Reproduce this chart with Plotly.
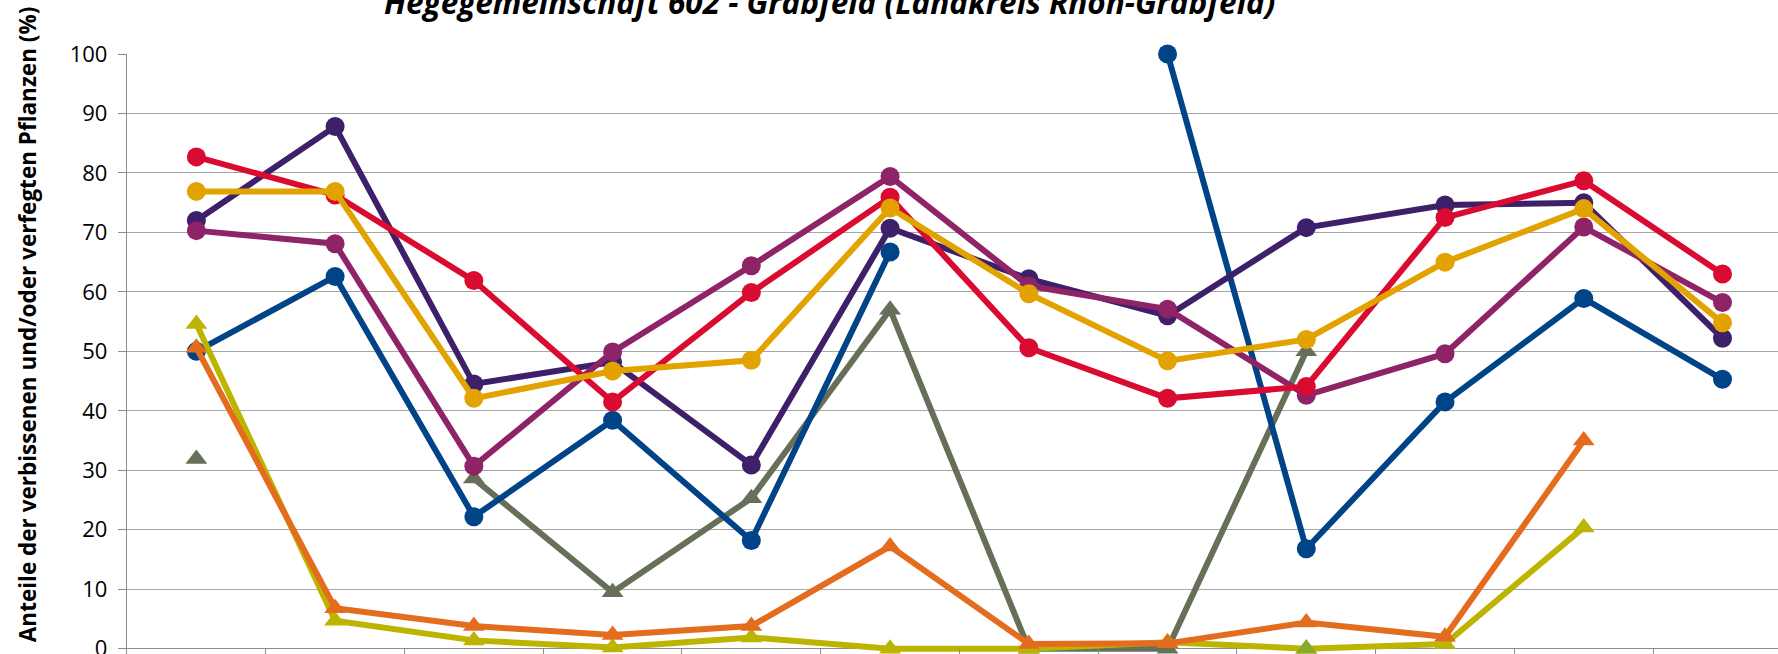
import plotly.graph_objects as go

# Categories (x axis labels are outside the visible crop)
categories = ["1991", "1994", "1997", "2000", "2003", "2006",
              "2009", "2012", "2015", "2018", "2021", "2024"]

# Series values (percent); None = no value (gap)
s_blue = [50.0, 62.6, 22.2, 38.4, 18.2, 66.7, None, 100.0, 16.8, 41.5, 58.9, 45.3]
s_darkpurple = [72.0, 87.8, 44.5, 48.2, 30.9, 70.7, 62.2, 56.0, 70.8, 74.6, 75.0, 52.2]
s_magenta = [70.3, 68.1, 30.7, 49.9, 64.4, 79.4, 61.0, 57.1, 42.6, 49.6, 70.9, 58.2]
s_red = [82.7, 76.3, 61.9, 41.5, 59.9, 75.9, 50.6, 42.1, 44.1, 72.5, 78.7, 63.0]
s_gold = [76.9, 76.9, 42.1, 46.7, 48.5, 74.1, 59.7, 48.4, 52.0, 65.0, 74.0, 54.8]
s_gray = [31.9, None, 28.6, 9.5, 25.3, 57.0, 0.0, 0.0, 50.0, None, None, None]
s_yellow = [54.6, 4.7, 1.4, 0.2, 1.9, 0.0, 0.0, 1.1, 0.0, 0.8, 20.4, None]
s_orange = [50.6, 6.8, 3.8, 2.3, 3.8, 17.2, 0.8, 0.9, 4.4, 2.0, 35.0, None]
s_green = [None, None, None, None, None, None, None, None, 0.0, None, None, None]

y_ticks = [0, 10, 20, 30, 40, 50, 60, 70, 80, 90, 100]

title_text = "Hegegemeinschaft 602 - Grabfeld (Landkreis Rhön-Grabfeld)"
ytitle_text = "Anteile der verbissenen und/oder verfegten Pflanzen (%)"

series = [
    (s_gray, "#667059", "triangle-up"),
    (s_blue, "#004487", "circle"),
    (s_darkpurple, "#3E206A", "circle"),
    (s_magenta, "#8F2368", "circle"),
    (s_red, "#DA0B30", "circle"),
    (s_gold, "#E2A300", "circle"),
    (s_yellow, "#BDB400", "triangle-up"),
    (s_orange, "#E46C1F", "triangle-up"),
    (s_green, "#8AAA2A", "triangle-up"),
]

fig = go.Figure()
for vals, col, sym in series:
    fig.add_trace(go.Scatter(
        x=categories, y=vals, mode="lines+markers",
        line=dict(color=col, width=6),
        marker=dict(color=col, size=19, symbol=sym, line=dict(width=0)),
        connectgaps=False, cliponaxis=False, showlegend=False,
        hoverinfo="skip",
    ))

W, H = 1778, 654
left, top = 127, 53.7
y0_px = 648.7                      # pixel row of value 0
unit_px = (y0_px - top) / 100.0    # pixels per percent
y_min = -(H - y0_px) / unit_px     # axis extends slightly below 0 (cropped chart)

def py(pixel_y):
    return (H - pixel_y) / (H - top)

def px(pixel_x):
    return (pixel_x - left) / (W - left)

fig.update_layout(
    width=W, height=H,
    margin=dict(l=left, r=0, t=top, b=0, pad=0, autoexpand=False),
    paper_bgcolor="white", plot_bgcolor="white",
    font=dict(family="Open Sans", color="#000000"),
    xaxis=dict(
        type="category", categoryorder="array", categoryarray=categories,
        range=[-0.5, 11.40], showgrid=False, zeroline=False,
        showline=False, automargin=False,
        ticks="inside", tickson="boundaries", ticklen=H - y0_px,
        tickcolor="#8C8C8C", tickwidth=1.3, showticklabels=False,
    ),
    yaxis=dict(
        range=[y_min, 100], tickvals=y_ticks, showgrid=True,
        gridcolor="#A6A6A6", gridwidth=1.4,
        zeroline=True, zerolinecolor="#8C8C8C", zerolinewidth=1.4,
        showline=True, linecolor="#8C8C8C", linewidth=1.3,
        ticks="outside", ticklen=8, tickcolor="#8C8C8C", tickwidth=1.3,
        tickfont=dict(family="Open Sans", size=22, color="#000000"),
        ticklabelstandoff=6, ticklabeloverflow="allow", automargin=False,
    ),
    annotations=[
        dict(text="<b><i>" + title_text + "</i></b>", xref="paper", yref="paper",
             x=px(829.5), y=py(1.3), xanchor="center", yanchor="middle",
             showarrow=False, font=dict(family="Open Sans", size=31.5, color="#000000")),
        dict(text="<b>" + ytitle_text + "</b>", xref="paper", yref="paper",
             x=px(27), y=py(325), xanchor="center", yanchor="middle", textangle=-90,
             showarrow=False, font=dict(family="Open Sans", size=22.5, color="#000000")),
    ],
)

fig.write_html(
    "out.html",
    config={"displayModeBar": False},
    post_script="document.body.style.margin='0';document.body.style.overflow='hidden';",
)
